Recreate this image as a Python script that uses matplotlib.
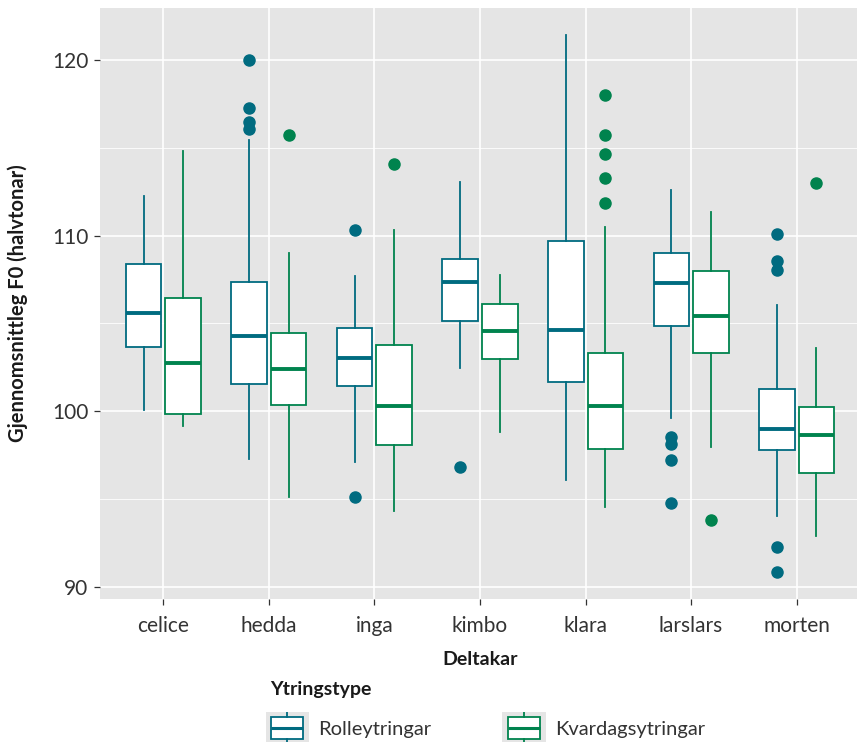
import numpy as np
import matplotlib
matplotlib.use("Agg")
from matplotlib import pyplot as plt

plt.rcParams['font.family'] = ['Lato', 'DejaVu Sans']

############################################
################## Data ####################
############################################
deltakarar = ['celice', 'hedda', 'inga', 'kimbo', 'klara', 'larslars', 'morten']
typar = ['Rolleytringar', 'Kvardagsytringar']

# Rolleytringar
rolle_whislo = [100.07, 97.28, 97.12, 102.46, 96.08, 99.63, 94.03]
rolle_q1 = [103.66, 101.53, 101.42, 105.14, 101.66, 104.84, 97.78]
rolle_med = [105.58, 104.29, 103.05, 107.34, 104.60, 107.30, 99.00]
rolle_q3 = [108.39, 107.34, 104.73, 108.69, 109.69, 109.02, 101.29]
rolle_whishi = [112.27, 115.45, 107.69, 113.05, 121.42, 112.61, 106.06]
rolle_fliers = [[], [120.0, 117.28, 116.45, 116.06], [110.33, 95.10], [96.84], [],
                [98.54, 98.15, 97.23, 94.77], [110.07, 108.56, 108.06, 92.27, 90.85]]

# Kvardagsytringar
kvard_whislo = [99.17, 95.10, 94.34, 98.82, 94.55, 97.95, 92.88]
kvard_q1 = [99.83, 100.37, 98.08, 103.00, 97.84, 103.31, 96.47]
kvard_med = [102.75, 102.40, 100.33, 104.55, 100.33, 105.40, 98.67]
kvard_q3 = [106.45, 104.47, 103.77, 106.12, 103.31, 107.97, 100.22]
kvard_whishi = [114.81, 109.00, 110.33, 107.73, 110.48, 111.35, 103.62]
kvard_fliers = [[], [115.75], [114.05], [], [118.0, 115.75, 114.66, 113.25, 111.83],
                [93.83], [113.0]]

farge_rolle = '#006b80'
farge_kvard = '#00834e'
tekst_farge = '#333333'

def make_stats(lo, q1, med, q3, hi, fl):
    stats = []
    for i in range(len(lo)):
        stats.append(dict(whislo=lo[i], q1=q1[i], med=med[i], q3=q3[i],
                          whishi=hi[i], fliers=fl[i]))
    return stats

def draw_box(ax, stats, pos, width, col, msize=8):
    ax.bxp(stats, positions=pos, widths=width, patch_artist=True,
           showcaps=False, manage_ticks=False,
           boxprops=dict(facecolor='white', edgecolor=col, linewidth=1.3),
           medianprops=dict(color=col, linewidth=2.8, solid_capstyle='butt'),
           whiskerprops=dict(color=col, linewidth=1.3),
           flierprops=dict(marker='o', markerfacecolor=col, markeredgecolor=col,
                           markersize=msize, linestyle='none'))

############################################
################## Plot ####################
############################################
fig = plt.figure(figsize=(8.57, 7.42), dpi=100)
ax = fig.add_axes([100/857, 1-599/742, 760/857, 591/742])
ax.set_facecolor('#e5e5e5')

x = np.arange(1, len(deltakarar)+1)
dodge = 0.1875
bw = 0.3375

draw_box(ax, make_stats(rolle_whislo, rolle_q1, rolle_med, rolle_q3, rolle_whishi, rolle_fliers),
         x - dodge, bw, farge_rolle)
draw_box(ax, make_stats(kvard_whislo, kvard_q1, kvard_med, kvard_q3, kvard_whishi, kvard_fliers),
         x + dodge, bw, farge_kvard)

ax.set_xlim(0.4, 7.6)
ax.set_ylim(89.32, 122.95)
ax.set_xticks(x)
ax.set_xticklabels(deltakarar)
ax.set_yticks([90, 100, 110, 120])
ax.set_yticks([95, 105, 115], minor=True)
ax.grid(which='major', color='white', linewidth=1.2)
ax.grid(which='minor', axis='y', color='white', linewidth=0.6)
ax.set_axisbelow(True)
for s in ax.spines.values():
    s.set_visible(False)
ax.tick_params(axis='both', which='major', length=4.5, width=0.9, color=tekst_farge,
               labelsize=15, labelcolor=tekst_farge)
ax.tick_params(axis='x', which='major', pad=7.5)
ax.tick_params(axis='y', which='major', pad=4)
ax.tick_params(axis='y', which='minor', length=0)

ax.set_ylabel('Gjennomsnittleg F0 (halvtonar)', fontsize=14.5, fontweight='bold', color='#1a1a1a')
ax.yaxis.set_label_coords(-0.095, 0.5)
ax.set_xlabel('Deltakar', fontsize=14, fontweight='bold', color='#1a1a1a')
ax.xaxis.set_label_coords(0.5, -0.088)

############################################
################# Legend ###################
############################################
fig.text(270/857, 1-690/742, 'Ytringstype', fontsize=14, fontweight='bold',
         color='#1a1a1a', va='center', ha='left')

key_x = [265.5, 502]
lab_x = [318, 555]
key_cols = [farge_rolle, farge_kvard]
for k in range(2):
    kax = fig.add_axes([key_x[k]/857, 1-744/742, 43.5/857, 32/742])
    kax.set_facecolor('#e5e5e5')
    kax.bxp([dict(whislo=-0.2, q1=0.16, med=0.5, q3=0.84, whishi=1.2, fliers=[])],
            positions=[0.5], widths=0.74, patch_artist=True, showcaps=False,
            boxprops=dict(facecolor='white', edgecolor=key_cols[k], linewidth=1.3),
            medianprops=dict(color=key_cols[k], linewidth=2.2),
            whiskerprops=dict(color=key_cols[k], linewidth=1.3))
    kax.set_xlim(0, 1)
    kax.set_ylim(0, 1)
    kax.set_xticks([])
    kax.set_yticks([])
    for s in kax.spines.values():
        s.set_visible(False)
    fig.text(lab_x[k]/857, 1-729/742, typar[k], fontsize=14.5, color=tekst_farge,
             va='center', ha='left')

fig.savefig('out.png', dpi=100)
